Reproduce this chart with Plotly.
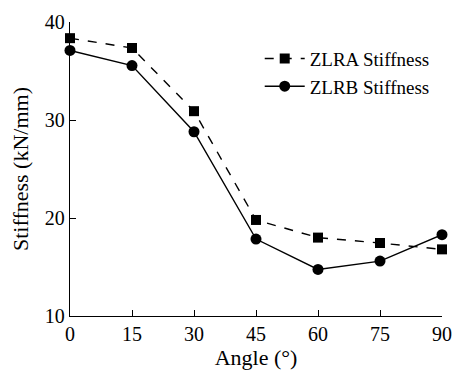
import plotly.graph_objects as go

angles = [0, 15, 30, 45, 60, 75, 90]
zlra = [38.35, 37.35, 30.9, 19.8, 18.0, 17.45, 16.8]
zlrb = [37.1, 35.55, 28.8, 17.85, 14.75, 15.6, 18.3]
x_ticks = [0, 15, 30, 45, 60, 75, 90]
y_ticks = [10, 20, 30, 40]

font = "Liberation Serif"

fig = go.Figure()
fig.add_trace(go.Scatter(
    x=angles, y=zlra, name="ZLRA Stiffness", mode="lines+markers",
    line=dict(color="black", width=1.4, dash="dash"),
    marker=dict(symbol="square", size=10, color="black"),
    cliponaxis=False))
fig.add_trace(go.Scatter(
    x=angles, y=zlrb, name="ZLRB Stiffness", mode="lines+markers",
    line=dict(color="black", width=1.4),
    marker=dict(symbol="circle", size=11, color="black"),
    cliponaxis=False))

axis_common = dict(showline=True, linecolor="black", linewidth=1.3,
                   ticks="inside", ticklen=6, tickwidth=1.3, tickcolor="black",
                   showgrid=False, zeroline=False, mirror=False,
                   tickfont=dict(family=font, size=20, color="black"))

fig.update_xaxes(range=[0, 90], tickvals=x_ticks,
                 title=dict(text="Angle (°)", font=dict(family=font, size=22, color="black"), standoff=5),
                 **axis_common)
fig.update_yaxes(range=[10, 40], tickvals=y_ticks,
                 title=dict(text="Stiffness (kN/mm)", font=dict(family=font, size=22, color="black"), standoff=10),
                 **axis_common)

fig.update_layout(
    width=463, height=377,
    margin=dict(l=70, r=11, t=21, b=54),
    plot_bgcolor="white", paper_bgcolor="white",
    font=dict(family=font, color="black"),
    legend=dict(x=0.51, y=0.94, xanchor="left", yanchor="top",
                bgcolor="rgba(0,0,0,0)", font=dict(family=font, size=19, color="black"),
                itemwidth=40, tracegroupgap=0),
)

fig.write_html("out.html")
